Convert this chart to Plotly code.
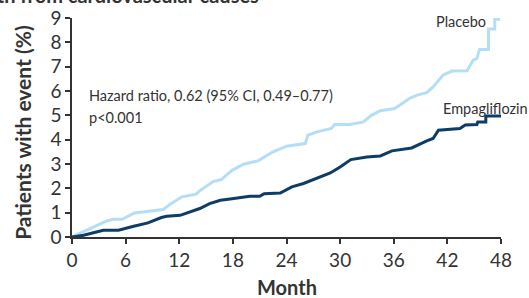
import plotly.graph_objects as go

# Placebo Kaplan-Meier curve (month, % with event)
placebo_month = [0, 2.0, 3.9, 4.6, 5.6, 7.0, 10.2, 11.0, 12.3, 13.9, 14.3, 15.8, 16.7, 17.9, 19.2,
                 20.8, 22.5, 24.0, 26.1, 26.4, 27.4, 29.0, 29.4, 31.1, 32.6, 33.5, 34.5, 36.1,
                 37.8, 38.6, 39.7, 40.4, 41.5, 42.5, 44.2, 44.9, 45.3, 45.6, 46.6, 46.6, 47.3,
                 47.3, 47.9]
placebo_pct = [0, 0.35, 0.66, 0.73, 0.73, 0.99, 1.13, 1.35, 1.65, 1.76, 1.9, 2.28, 2.36, 2.74, 2.99,
               3.13, 3.5, 3.73, 3.84, 4.19, 4.32, 4.46, 4.62, 4.62, 4.73, 5.0, 5.19, 5.28,
               5.7, 5.83, 5.93, 6.17, 6.65, 6.82, 6.83, 7.27, 7.34, 7.71, 7.71, 8.55, 8.55,
               8.95, 8.95]

# Empagliflozin Kaplan-Meier curve
empa_month = [0, 1.3, 3.5, 5.2, 6.9, 8.5, 10.0, 10.6, 12.1, 13.2, 14.3, 15.4, 16.6, 17.7, 19.9,
              21.0, 21.5, 23.3, 24.6, 25.9, 27.4, 28.9, 30.0, 31.2, 33.0, 34.5, 35.8, 38.0,
              39.7, 40.4, 41.0, 43.4, 44.0, 45.3, 45.4, 46.3, 46.3, 48.0]
empa_pct = [0, 0.07, 0.28, 0.28, 0.44, 0.58, 0.80, 0.85, 0.89, 1.03, 1.17, 1.37, 1.51, 1.56, 1.67,
            1.67, 1.78, 1.81, 2.06, 2.2, 2.4, 2.63, 2.88, 3.18, 3.29, 3.33, 3.54, 3.66,
            3.95, 4.05, 4.39, 4.46, 4.6, 4.62, 4.73, 4.73, 4.97, 4.97]

x_ticks = [0, 6, 12, 18, 24, 30, 36, 42, 48]
y_ticks = [0, 1, 2, 3, 4, 5, 6, 7, 8, 9]

FONT = "Lato"
TXT = "#333333"

fig = go.Figure()
fig.add_trace(go.Scatter(x=placebo_month, y=placebo_pct, mode="lines",
                         line=dict(color="#b3def6", width=3), name="Placebo"))
fig.add_trace(go.Scatter(x=empa_month, y=empa_pct, mode="lines",
                         line=dict(color="#0d3d66", width=3), name="Empagliflozin"))

fig.update_layout(
    width=529, height=298,
    margin=dict(l=72, r=28, t=18, b=61),
    paper_bgcolor="white", plot_bgcolor="white",
    showlegend=False,
    font=dict(family=FONT, color=TXT),
)
fig.update_xaxes(range=[0, 48], tickvals=x_ticks, showgrid=False, zeroline=False,
                 showline=True, linecolor=TXT, linewidth=1.5, automargin=False,
                 ticks="outside", ticklen=5, tickcolor=TXT, tickwidth=1.5,
                 tickfont=dict(size=19, family=FONT, color=TXT))
fig.update_yaxes(range=[0, 9], tickvals=y_ticks, showgrid=False, zeroline=False,
                 showline=True, linecolor=TXT, linewidth=1.5, automargin=False,
                 ticks="outside", ticklen=5, tickcolor=TXT, tickwidth=1.5,
                 tickfont=dict(size=19, family=FONT, color=TXT))

# axis titles
fig.add_annotation(text="<b>Month</b>", xref="paper", yref="paper",
                   x=0.502, y=-0.23, xanchor="center", yanchor="middle", showarrow=False,
                   font=dict(size=20, family=FONT, color=TXT))
fig.add_annotation(text="<b>Patients with event (%)</b>", xref="paper", yref="paper",
                   x=-0.114, y=0.476, xanchor="center", yanchor="middle", showarrow=False,
                   textangle=-90, font=dict(size=21, family=FONT, color=TXT))

fig.add_annotation(text="Hazard ratio, 0.62 (95% CI, 0.49–0.77)", xref="x", yref="y",
                   x=1.7, y=5.8, xanchor="left", yanchor="middle", showarrow=False,
                   font=dict(size=14.5, family=FONT, color=TXT))
fig.add_annotation(text="p<0.001", xref="x", yref="y",
                   x=1.7, y=4.9, xanchor="left", yanchor="middle", showarrow=False,
                   font=dict(size=14.5, family=FONT, color=TXT))
fig.add_annotation(text="Placebo", xref="x", yref="y",
                   x=46.5, y=8.85, xanchor="right", yanchor="middle", showarrow=False,
                   font=dict(size=14.5, family=FONT, color=TXT))
fig.add_annotation(text="Empagliflozin", xref="x", yref="y",
                   x=41.3, y=5.3, xanchor="left", yanchor="middle", showarrow=False,
                   font=dict(size=14.5, family=FONT, color=TXT))
fig.add_annotation(text="<b>Death from cardiovascular causes</b>", xref="paper", yref="paper",
                   x=0.44, y=1.04, xanchor="right", yanchor="bottom", showarrow=False,
                   font=dict(size=20, family=FONT, color=TXT))
fig.add_annotation(text="<b>Patients at risk</b>", xref="paper", yref="paper",
                   x=-0.016, y=-0.25, xanchor="right", yanchor="top", showarrow=False,
                   font=dict(size=17, family=FONT, color=TXT))

fig.write_html("out.html", config={"displayModeBar": False},
               post_script="document.body.style.margin='0';document.body.style.overflow='hidden';")
